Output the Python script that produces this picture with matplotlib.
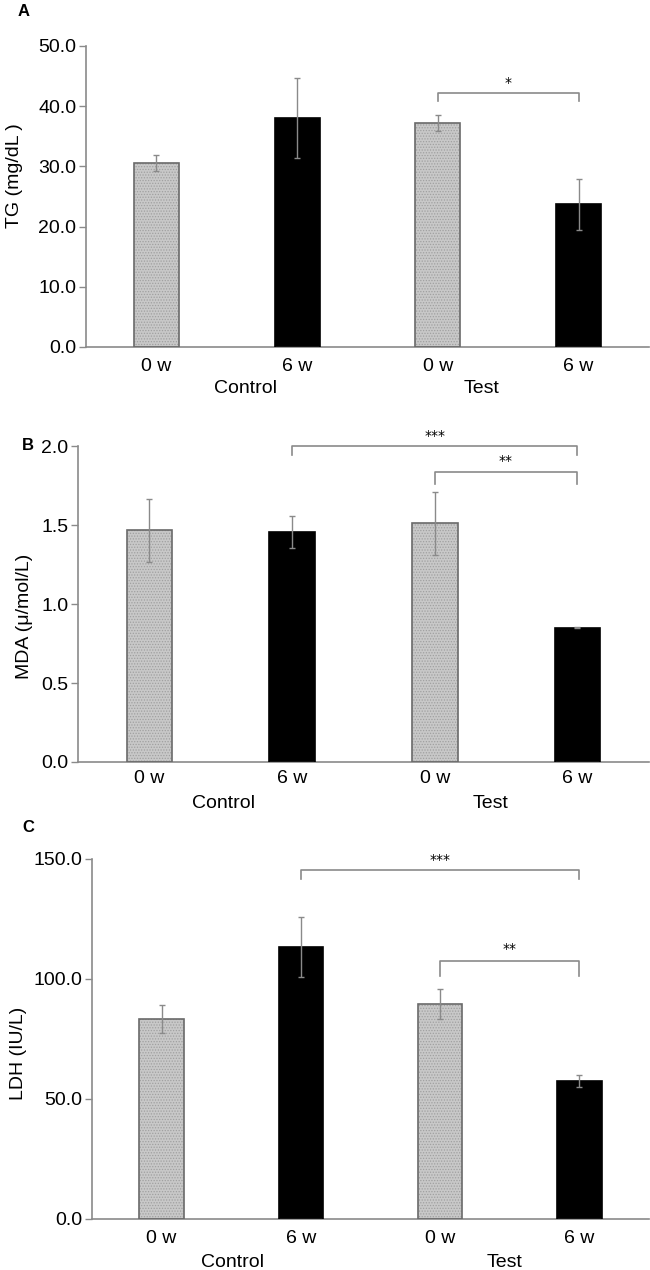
import matplotlib
matplotlib.use("Agg")
import matplotlib.pyplot as plt
from matplotlib.ticker import FormatStrFormatter

plt.rcParams['font.family'] = ['Liberation Sans', 'DejaVu Sans']
plt.rcParams['hatch.linewidth'] = 0.6

# data
time_labels = ["0 w", "6 w", "0 w", "6 w"]
group_labels = ["Control", "Test"]

tg_means = [30.6, 38.0, 37.2, 23.7]
tg_err = [1.3, 6.6, 1.4, 4.2]

mda_means = [1.467, 1.454, 1.511, 0.849]
mda_err = [0.20, 0.10, 0.20, 0.003]

ldh_means = [83.3, 113.5, 89.5, 57.4]
ldh_err = [5.8, 12.5, 6.2, 2.4]

# brackets: (from bar, to bar, height, drop, stars)
tg_sig = [(2, 3, 42.2, 1.35, "*")]
mda_sig = [(1, 3, 2.0, 0.055, "***"), (2, 3, 1.834, 0.076, "**")]
ldh_sig = [(1, 3, 145.4, 3.7, "***"), (2, 3, 107.3, 6.0, "**")]

grey = '#8a8a8a'
fills = ['#c8c8c8', 'black', '#c8c8c8', 'black']
edges = ['#6a6a6a', 'black', '#6a6a6a', 'black']


def draw_panel(ax, means, errs, sigs, ylim, yticks, ylabel, label_xy, group_x, tick_pad, group_off):
    x = list(range(len(means)))
    w = 0.32
    # dotted light grey fill for the 0 w bars
    ax.bar(x, means, width=w, color=fills, edgecolor=['#a0a0a0', 'black', '#a0a0a0', 'black'],
           hatch='......', linewidth=0, zorder=2)
    ax.bar(x, means, width=w, fill=False, edgecolor=edges, linewidth=1.2, zorder=3)
    ax.errorbar(x, means, yerr=errs, fmt='none', ecolor=grey, elinewidth=1.0,
                capsize=2.5, capthick=1.0, zorder=4)

    for a, b, h, d, stars in sigs:
        ax.plot([a, a, b, b], [h - d, h, h, h - d], color=grey, lw=1.2, clip_on=False, zorder=5)
        ax.text((a + b) / 2, h + d * 0.35, stars, ha='center', va='bottom', fontsize=10,
                family=['DejaVu Sans'])

    ax.set_xlim(-0.5, 3.5)
    ax.set_ylim(*ylim)
    ax.set_yticks(yticks)
    ax.yaxis.set_major_formatter(FormatStrFormatter('%.1f'))
    ax.set_xticks(x)
    ax.set_xticklabels(time_labels, fontsize=14)
    ax.tick_params(axis='x', length=0, pad=tick_pad)
    ax.tick_params(axis='y', labelsize=14, length=5, width=1, color=grey, pad=2)
    for s in ['top', 'right']:
        ax.spines[s].set_visible(False)
    for s in ['left', 'bottom']:
        ax.spines[s].set_color(grey)
        ax.spines[s].set_linewidth(1.2)
    ax.set_ylabel(ylabel, fontsize=14)
    ax.yaxis.set_label_coords(*label_xy)
    for gx, g in zip(group_x, group_labels):
        ax.annotate(g, xy=(gx, 0), xycoords=('data', 'axes fraction'),
                    xytext=(0, -group_off), textcoords='offset points',
                    ha='center', va='center', fontsize=14, annotation_clip=False)


fig = plt.figure(figsize=(6.5, 12.7), dpi=100)

ax_a = fig.add_axes([0.1323, 0.7268, 0.866, 0.2370])
draw_panel(ax_a, tg_means, tg_err, tg_sig, (0, 50), [0, 10, 20, 30, 40, 50],
           'TG (mg/dL )', (-0.112, 0.57), [0.63, 2.31], 8, 30)

ax_b = fig.add_axes([0.12, 0.40, 0.878, 0.2488])
draw_panel(ax_b, mda_means, mda_err, mda_sig, (0, 2.0), [0, 0.5, 1.0, 1.5, 2.0],
           'MDA (\u03bc/mol/L)', (-0.079, 0.46), [0.52, 2.39], 6, 30)

ax_c = fig.add_axes([0.1415, 0.0402, 0.857, 0.2835])
draw_panel(ax_c, ldh_means, ldh_err, ldh_sig, (0, 150), [0, 50, 100, 150],
           'LDH (IU/L)', (-0.117, 0.46), [0.51, 2.46], 8, 31)

for letter, (px, py) in zip("ABC", [(18, 12), (22, 446), (22, 828)]):
    fig.text(px / 650, 1 - py / 1270, letter, fontsize=12, fontweight='bold',
             ha='left', va='center', family=['Liberation Sans', 'DejaVu Sans'])

fig.savefig('out.png', dpi=100)
